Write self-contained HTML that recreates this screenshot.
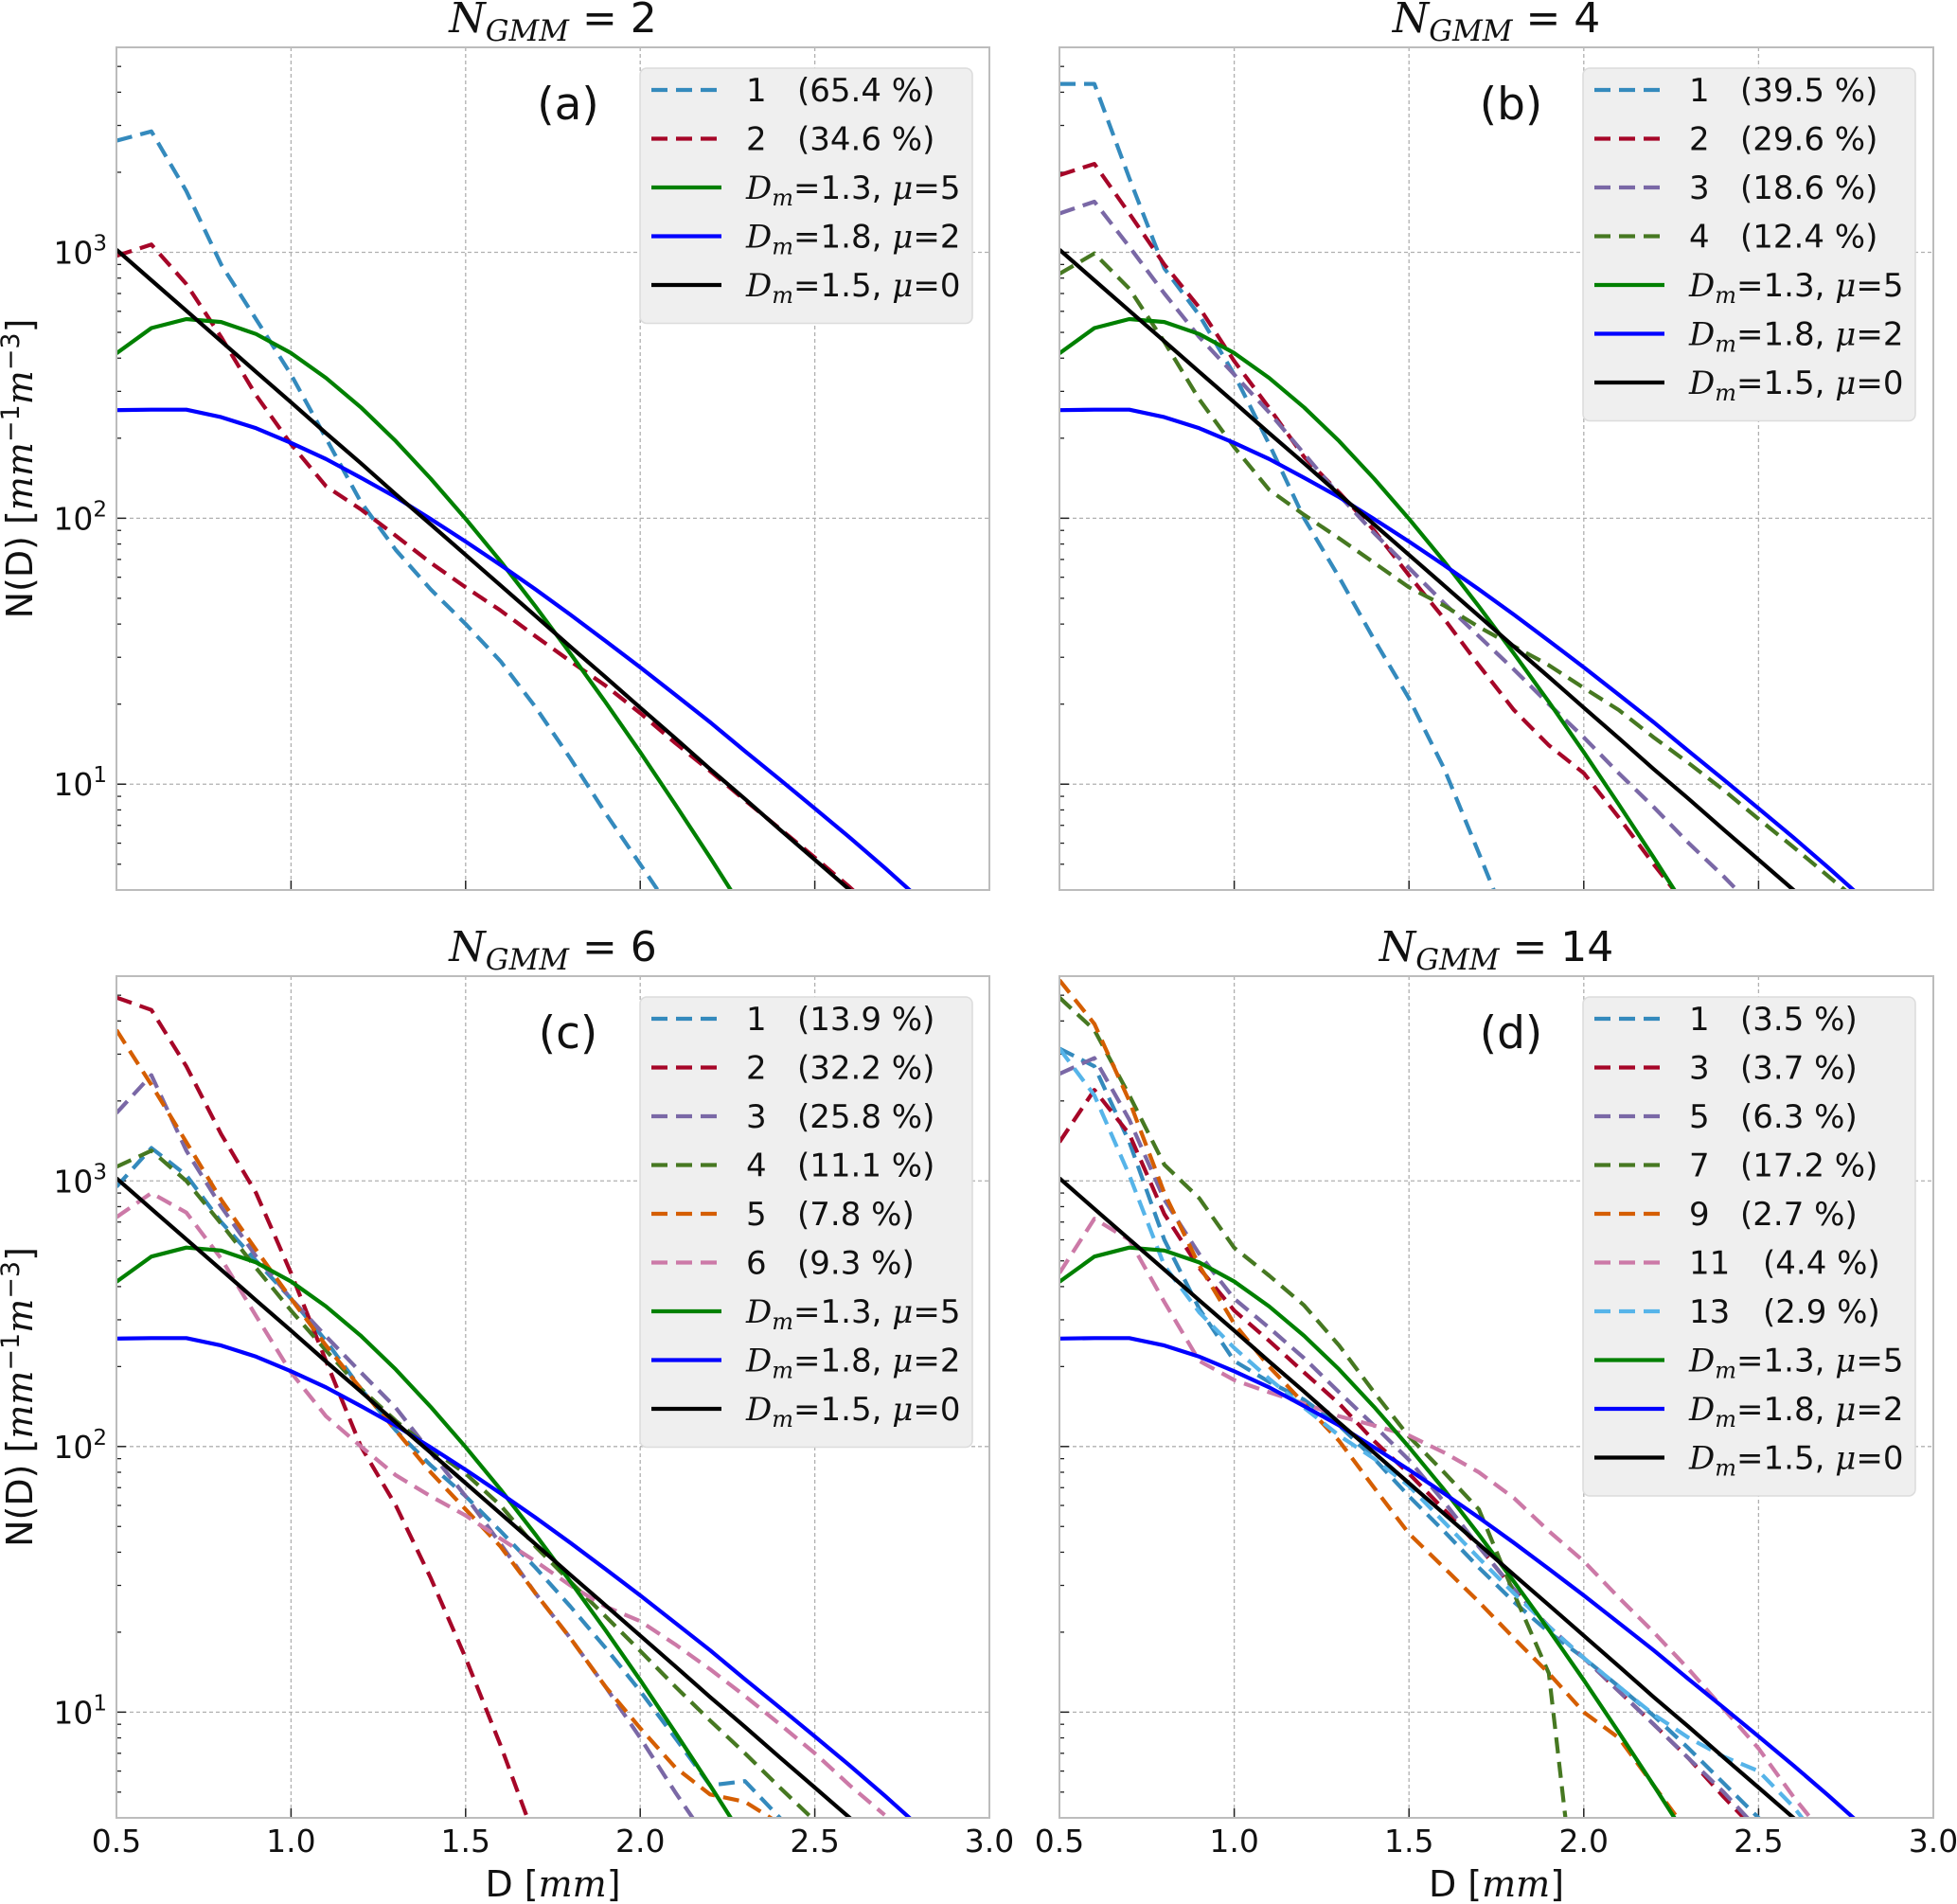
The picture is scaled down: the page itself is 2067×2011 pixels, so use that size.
<!DOCTYPE html>
<html><head><meta charset="utf-8"><style>
html,body{margin:0;padding:0;background:#fff;}
svg{display:block;}
text{font-family:"DejaVu Sans","Liberation Sans",sans-serif;}
.math{font-family:"DejaVu Serif","Liberation Serif",serif;font-style:italic;}
</style></head><body>
<svg id="chart" width="2067" height="2011" viewBox="0 0 2067 2011" xmlns="http://www.w3.org/2000/svg"></svg>
<script>
// ---- data ----
const dGrid = [0.5,0.6,0.7,0.8,0.9,1.0,1.1,1.2,1.3,1.4,1.5,1.6,1.7,1.8,1.9,2.0,2.1,2.2,2.3,2.4,2.5,2.6,2.7,2.8];
const refGreen = [417,519,561,547,493,418,337,261,195,141,99.5,68.9,46.6,31.0,20.4,13.2,8.4,5.3,3.3];
const refBlue  = [255,256,256,240,218,192,167,142,120,99.3,81.7,66.7,54,43.4,34.6,27.5,21.7,17.1,13.3,10.4,8.1,6.3,4.85,3.7];
const refBlack = [1023,785,603,463,355,273,209,161,123,94.8,72.8,55.9,42.9,32.9,25.3,19.4,14.9,11.4,8.8,6.75,5.2,4.0,3.06];
const refLabels = ["1.3|5","1.8|2","1.5|0"];

const aLabels = ["1","2"];
const aPct = ["65.4","34.6"];
const a1 = [2630,2850,1700,900,560,347,200,115,76,54,40,29,19.5,12.5,7.8,5.0,3.2];
const a2 = [970,1070,760,480,290,190,132,108,86,68,55,45,36,29,23.5,18.5,14.3,11.2,8.7,6.8,5.3,4.1,3.1];

const bLabels = ["1","2","3","4"];
const bPct = ["39.5","29.6","18.6","12.4"];
const b1 = [4300,4300,1900,870,580,347,190,100,60,35,21,11.5,5.5,2.6];
const b2 = [1950,2150,1400,900,620,390,260,170,125,90,61,42,28,19,14,11,7.5,5.0,3.4];
const b3 = [1400,1550,1050,700,480,347,250,175,122,88,65,48,36,27,20,15,11,8.2,6,4.5,3.3];
const b4 = [830,990,730,460,280,185,128,103,84,68,55,47,39,33,28,23,19,15,12,9.5,7.4,5.8,4.5,3.5];

const cLabels = ["1","2","3","4","5","6"];
const cPct = ["13.9","32.2","25.8","11.1","7.8","9.3"];
const c1 = [950,1330,1050,700,500,360,250,165,115,85,65,48,35,25,17.5,12,8,5.3,5.5,4.0,2.9];
const c2 = [4900,4400,2700,1500,900,450,210,100,60,32,16,7.5,3.3];
const c3 = [1800,2500,1300,800,520,360,260,190,140,95,65,43,28,19,12.5,8,5,3.2];
const c4 = [1130,1300,1000,690,470,325,230,165,125,98,79,60,42,31,23,17,12.5,9.3,7,5.2,3.9];
const c5 = [3700,2300,1400,850,550,360,240,165,115,80,58,42,28,19,12.5,8.7,6.2,4.9,4.6,3.8,2.9];
const c6 = [730,900,760,510,310,190,130,100,78,65,55,45,37,30,25,22,18,14.5,11.5,9,7,5.3,4.1];

const dLabels = ["1","3","5","7","9","11","13"];
const dPct = ["3.5","3.7","6.3","17.2","2.7","4.4","2.9"];
const d1 = [3150,2700,1400,600,330,210,175,150,120,90,65,48,35,26,20,16,12.5,9.7,7.3,5.4,4.0,2.9];
const d3 = [1400,2200,1500,750,470,325,250,190,145,105,79,58,42,29,21,16,12,9,6.7,4.8,3.5];
const d5 = [2530,2900,1700,850,530,360,280,215,160,120,89,62,42,29,21,16,12,9,6.7,5,3.6];
const d7 = [4900,3700,2100,1150,860,560,440,340,240,160,109,80,58,28,14,1];
const d9 = [5700,3900,2000,900,480,290,200,145,105,70,47,35,26,19,14,10,8,5.3,3.5];
const d11 = [450,720,600,350,210,178,160,145,130,120,110,95,80,64,48,37,27,20,14.5,10.3,7.3,4.8,3.3];
const d13 = [3150,2100,1050,480,320,235,180,140,110,90,71,52,38,28,21,16,12.5,9.8,8,6.8,6,4.4,3];

const xTicks = [0.5,1.0,1.5,2.0,2.5,3.0];
const xTickLabels = ["0.5","1.0","1.5","2.0","2.5","3.0"];
const yTicks = [1,2,3];

// ---- drawing ----
const NS = "http://www.w3.org/2000/svg";
const svg = document.getElementById('chart');
const COL = ['#348ABD','#A60628','#7A68A6','#467821','#D55E00','#CC79A7','#56B4E9'];
function mk(tag, attrs, parent){const e=document.createElementNS(NS,tag);for(const k in attrs)e.setAttribute(k,attrs[k]);(parent||svg).appendChild(e);return e;}

const panels = [
 {id:'a',x0:123,x1:1045,y0:50,y1:940,n:'2',series:[a1,a2],labels:aLabels,pct:aPct,xl:false,yl:true},
 {id:'b',x0:1119,x1:2042,y0:50,y1:940,n:'4',series:[b1,b2,b3,b4],labels:bLabels,pct:bPct,xl:false,yl:false},
 {id:'c',x0:123,x1:1045,y0:1031,y1:1920,n:'6',series:[c1,c2,c3,c4,c5,c6],labels:cLabels,pct:cPct,xl:true,yl:true},
 {id:'d',x0:1119,x1:2042,y0:1031,y1:1920,n:'14',series:[d1,d3,d5,d7,d9,d11,d13],labels:dLabels,pct:dPct,xl:true,yl:false}
];
const LOGMIN = Math.log10(4.0), LOGMAX = Math.log10(5900);

panels.forEach(p=>{
  const g = mk('g',{});
  
  
  const sx = v => p.x0 + (v-0.5)/(3.0-0.5)*(p.x1-p.x0);
  const sy = v => p.y1 - (Math.log10(v)-LOGMIN)/(LOGMAX-LOGMIN)*(p.y1-p.y0);
  const clipId = 'clip'+p.id;
  const cp = mk('clipPath',{id:clipId},g);
  mk('rect',{x:p.x0,y:p.y0,width:p.x1-p.x0,height:p.y1-p.y0},cp);
  xTicks.forEach(t=>{const X=sx(t);
    const l=mk('line',{x1:X,x2:X,y1:p.y0,y2:p.y1,stroke:'#b0b0b0','stroke-width':1.3,'stroke-dasharray':'4,3'},g);
    
    const tk=mk('line',{x1:X,x2:X,y1:p.y1,y2:p.y1-10,stroke:'#222','stroke-width':1.5},g);
    
    if(p.xl){const tx=mk('text',{x:X,y:p.y1+36,'text-anchor':'middle','font-size':33,fill:'#111'},g);tx.textContent=xTickLabels[xTicks.indexOf(t)];
      }
  });
  yTicks.forEach(e=>{const Y=sy(Math.pow(10,e));
    const l=mk('line',{x1:p.x0,x2:p.x1,y1:Y,y2:Y,stroke:'#b0b0b0','stroke-width':1.3,'stroke-dasharray':'4,3'},g);
    
    const tk=mk('line',{x1:p.x0,x2:p.x0+10,y1:Y,y2:Y,stroke:'#222','stroke-width':1.5},g);
    
    if(p.yl){const tx=mk('text',{x:p.x0-10,y:Y+12,'text-anchor':'end','font-size':33,fill:'#111'},g);
      
      tx.appendChild(document.createTextNode('10'));
      const s=mk('tspan',{dy:-14,'font-size':23},tx);s.textContent=String(e);}
    for(let m=2;m<=9;m++){const v=m*Math.pow(10,e-1);const yy=sy(v);
      if(yy>p.y0&&yy<p.y1){const mt=mk('line',{x1:p.x0,x2:p.x0+5,y1:yy,y2:yy,stroke:'#222','stroke-width':1.3},g);
      }}
  });
  for(let m=2;m<=9;m++){const yy=sy(m*1000);if(yy>p.y0){const mt=mk('line',{x1:p.x0,x2:p.x0+5,y1:yy,y2:yy,stroke:'#222','stroke-width':1.3},g);
    }}
  const sg = mk('g',{'clip-path':'url(#'+clipId+')'},g);
  function line(vals,color,dash,name){
    const pts=vals.map((v,i)=>sx(dGrid[i]).toFixed(1)+','+sy(v).toFixed(1)).join(' ');
    const a={points:pts,fill:'none',stroke:color,'stroke-width':4.2,'stroke-linejoin':'round'};
    if(dash)a['stroke-dasharray']='17,9';
    const el=mk('polyline',a,sg);
    
    
  }
  p.series.forEach((s,i)=>line(s,COL[i],true,'series-'+p.labels[i]));
  line(refGreen,'#008000',false,'ref-dm13-mu5');
  line(refBlue,'#0000ff',false,'ref-dm18-mu2');
  line(refBlack,'#000000',false,'ref-dm15-mu0');
  const fr=mk('rect',{x:p.x0,y:p.y0,width:p.x1-p.x0,height:p.y1-p.y0,fill:'none',stroke:'#bcbcbc','stroke-width':2},g);
  
  const cx=(p.x0+p.x1)/2;
  const t=mk('text',{x:cx,y:p.y0-16,'text-anchor':'middle','font-size':44,fill:'#111'},g);
  
  const t1=mk('tspan',{class:'math'},t);t1.textContent='N';
  const t2=mk('tspan',{class:'math','font-size':31,dy:9},t);t2.textContent='GMM';
  const t3=mk('tspan',{dy:-9},t);t3.textContent=' = '+p.n;
  const lt=mk('text',{x:p.x0+477,y:p.y0+76,'text-anchor':'middle','font-size':47,fill:'#111'},g);
  lt.textContent='('+p.id+')';
  const n=p.series.length+3;
  const lx=p.x0+553, ly=p.y0+22, rowH=51.5;
  const lg=mk('g',{},g);
  mk('rect',{x:lx,y:ly,width:351,height:n*rowH+12,rx:7,fill:'#efefef',stroke:'#dcdcdc','stroke-width':1.5},lg);
  for(let i=0;i<n;i++){
    const y=ly+23+i*rowH;
    const eg=mk('g',{},lg);
    let color,dash=false;
    if(i<p.series.length){color=COL[i];dash=true;}else color=['#008000','#0000ff','#000000'][i-p.series.length];
    const la={x1:lx+12,x2:lx+86,y1:y,y2:y,stroke:color,'stroke-width':4.2};
    if(dash)la['stroke-dasharray']='17,9';
    mk('line',la,eg);
    if(i<p.series.length){
      const tx=mk('text',{x:lx+112,y:y+12,'font-size':34,fill:'#111'},eg);
      tx.textContent=p.labels[i];
      const off = p.labels[i].length>1 ? 190 : 166;
      const tp=mk('text',{x:lx+off,y:y+12,'font-size':34,fill:'#111'},eg);
      tp.textContent='('+p.pct[i]+'\u00a0%)';
    }else{
      const tx=mk('text',{x:lx+112,y:y+12,'font-size':34,fill:'#111'},eg);
      const parts=refLabels[i-p.series.length].split('|');
      const s1=mk('tspan',{class:'math'},tx);s1.textContent='D';
      const s2=mk('tspan',{class:'math','font-size':24,dy:7},tx);s2.textContent='m';
      const s3=mk('tspan',{dy:-7},tx);s3.textContent='='+parts[0]+',\u00a0';
      const s4=mk('tspan',{class:'math'},tx);s4.textContent='μ';
      const s5=mk('tspan',{},tx);s5.textContent='='+parts[1];
    }
  }
  if(p.yl){
    const cy=(p.y0+p.y1)/2;
    const yl=mk('text',{x:0,y:0,'text-anchor':'middle','font-size':38,fill:'#111',transform:'translate(34,'+cy+') rotate(-90)'},g);
    
    yl.appendChild(document.createTextNode('N(D) ['));
    const m1=mk('tspan',{class:'math'},yl);m1.textContent='mm';
    const m2=mk('tspan',{dy:-14,'font-size':27},yl);m2.textContent='−1';
    const m3=mk('tspan',{dy:14,class:'math'},yl);m3.textContent='m';
    const m4=mk('tspan',{dy:-14,'font-size':27},yl);m4.textContent='−3';
    const m5=mk('tspan',{dy:14},yl);m5.textContent=']';
  }
  if(p.xl){
    const xl=mk('text',{x:cx,y:2003,'text-anchor':'middle','font-size':38,fill:'#111'},g);
    
    xl.appendChild(document.createTextNode('D ['));
    const m1=mk('tspan',{class:'math'},xl);m1.textContent='mm';
    const m2=mk('tspan',{},xl);m2.textContent=']';
  }
});
</script>
</body></html>
